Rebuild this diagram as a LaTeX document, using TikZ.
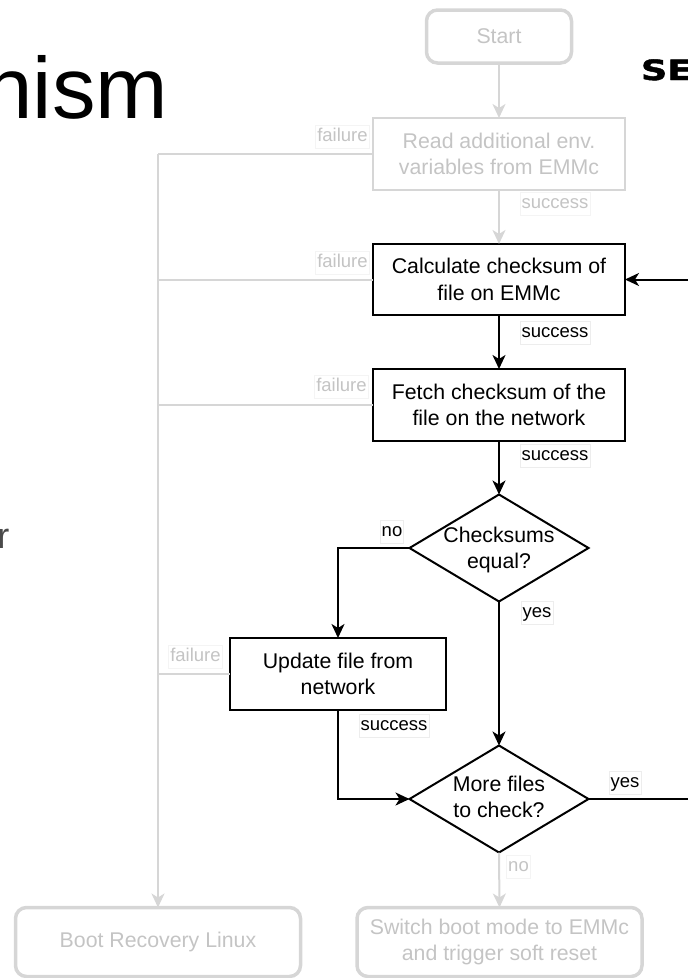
\documentclass[tikz,border=0pt]{standalone}
\usepackage{fontspec}
\setmainfont{Liberation Sans}
\newfontfamily\logofont{DejaVu Sans}[BoldFeatures={FakeBold=1.5}]
\usetikzlibrary{arrows.meta,shapes.geometric}

\definecolor{faint}{HTML}{D6D6D6}
\definecolor{fainttext}{HTML}{C4C4C4}
\definecolor{labelrule}{HTML}{EDEDED}
\definecolor{labelrulefaint}{HTML}{F4F4F4}
\definecolor{slidetext}{HTML}{4A4A4A}

\begin{document}
\begin{tikzpicture}[x=1pt,y=-1pt,
  every node/.style={font=\fontsize{21.3}{26.7}\selectfont, inner sep=0pt, outer sep=0pt},
  proc/.style={draw=black, line width=2pt, align=center, minimum width=252pt, minimum height=72pt, fill=white},
  procfaint/.style={draw=faint, line width=2pt, align=center, minimum width=252pt, minimum height=72pt, text=fainttext},
  terminal/.style={draw=faint, line width=3.5pt, rounded corners=11pt, align=center, text=fainttext},
  decision/.style={draw=black, line width=2pt, shape=diamond, minimum width=179pt, minimum height=107pt},
  lab/.style={font=\fontsize{18.5}{20}\selectfont, fill=white, draw=labelrule, line width=0.7pt,
              inner xsep=1.5pt, inner ysep=2.5pt, text height=13.5pt, text depth=4pt},
  labfaint/.style={lab, draw=labelrulefaint, text=fainttext},
  bline/.style={draw=black, line width=2pt},
  fline/.style={draw=faint, line width=2pt},
  btip/.style={-{Stealth[length=14pt,width=13pt,inset=4pt]}},
  ftip/.style={-{Stealth[length=14pt,width=13pt,inset=4pt,color=faint]}},
]
\useasboundingbox (0,0) rectangle (688,978);

% slide text around the chart
\node[anchor=base east, font=\fontsize{87}{87}\selectfont] (title) at (168,118) {nism};
\node[anchor=base west, font=\fontsize{36}{36}\selectfont, text=slidetext] (bullet) at (-2.5,548) {r};
\node[anchor=base west, font=\logofont\bfseries\fontsize{28}{28}\selectfont, xscale=1.3] (logo) at (641,80) {SE};

% nodes of the chart
\node[terminal, minimum width=145pt, minimum height=53pt] (start) at (499,36.5) {Start};
\node[procfaint] (read) at (499,154) {Read additional env.\\variables from EMMc};
\node[proc, minimum height=71pt] (calc) at (499,279.5) {Calculate checksum of\\file on EMMc};
\node[proc] (fetch) at (499,405) {Fetch checksum of the\\file on the network};
\node[decision] (eq) at (499,548) {};
\node[align=center] (eqtext) at (499,550) {Checksums\\equal?};
\node[proc, minimum width=216pt, minimum height=72pt] (upd) at (338,674) {Update file from\\network};
\node[decision] (more) at (499,799) {};
\node[align=center] (moretext) at (499,797) {More files\\to check?};
\node[terminal, minimum width=285pt, minimum height=69pt] (switch) at (499.5,942) {Switch boot mode to EMMc\\and trigger soft reset};
\node[terminal, minimum width=285pt, minimum height=69pt] (boot) at (158,942) {Boot Recovery Linux};

% free ends of the loop back to the checksum step
\coordinate (loopout) at (688,799);
\coordinate (loopin) at (688,279.5);
% top of the shared failure line
\coordinate (bus) at (158,154);

% faint connectors
\draw[fline,ftip] (start) -- (read);
\draw[fline,ftip] (read) -- (calc);
\draw[fline,ftip] (more.south) -- (switch.north);
\draw[fline] (read.west) -- (bus);
\draw[fline,ftip] (bus) -- (boot.north);
\draw[fline] (calc.west) -- (calc.west -| bus);
\draw[fline] (fetch.west) -- (fetch.west -| bus);
\draw[fline] (upd.west) -- (upd.west -| bus);

% main connectors
\draw[bline,btip] (calc) -- (fetch);
\draw[bline,btip] (fetch) -- (eq.north);
\draw[bline,btip] (eq.west) -| (upd.north);
\draw[bline,btip] (eq.south) -- (more.north);
\draw[bline,btip] (upd.south) |- (more.west);
\draw[bline] (more.east) -- (loopout);
\draw[bline,btip] (loopin) -- (calc.east);

% edge labels
\node[labfaint] (f1) at (342.5,137) {failure};
\node[labfaint] (f2) at (342.5,263) {failure};
\node[labfaint] (f3) at (341.5,387) {failure};
\node[labfaint] (f4) at (195.5,657) {failure};
\node[labfaint] (s1) at (555,204) {success};
\node[lab] (s2) at (555,333) {success};
\node[lab] (s3) at (555,456) {success};
\node[lab] (s4) at (394,726) {success};
\node[lab] (n1) at (392,532) {no};
\node[lab] (y1) at (537,613) {yes};
\node[lab] (y2) at (625,783) {yes};
\node[labfaint] (n2) at (518.5,867) {no};
\end{tikzpicture}
\end{document}
